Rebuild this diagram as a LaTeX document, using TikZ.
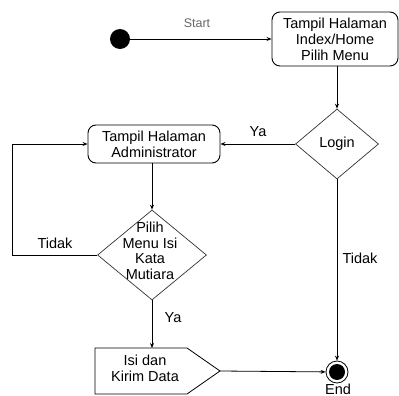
\documentclass[tikz,border=0pt]{standalone}
\usepackage{fontspec}
\setmainfont{Liberation Sans}
\usetikzlibrary{shapes.geometric,arrows.meta}
\begin{document}
\begin{tikzpicture}[x=1pt,y=-1pt,
 txt/.style={font=\fontsize{14.5}{16}\selectfont, align=center, inner sep=0pt},
 act/.style={draw, rounded corners=8pt, line width=0.9pt, txt},
 dec/.style={draw=black!80, diamond, inner sep=0pt, line width=0.7pt},
 lab/.style={font=\fontsize{14.5}{16}\selectfont, inner sep=0pt},
 flow/.style={draw, line width=0.8pt, -{Stealth[length=5pt,width=4pt]}}
]
\useasboundingbox (0,0) rectangle (399,396);

\node[circle, fill=black, minimum size=20pt, inner sep=0pt] (start) at (120,39) {};
\node[act, minimum width=126pt, minimum height=54pt] (home) at (335,39) {Tampil Halaman\\Index/Home\\Pilih Menu};
\node[dec, minimum width=83pt, minimum height=70pt, font=\fontsize{14.5}{16}\selectfont] (login) at (337,144) {Login};
\node[act, minimum width=132pt, minimum height=38pt] (admin) at (154,144) {Tampil Halaman\\Administrator};
\node[dec, minimum width=109pt, minimum height=90pt] (menu) at (152,255) {};
\node[txt, font=\fontsize{14.5}{15.5}\selectfont] (menutxt) at (150,251) {Pilih\\Menu Isi\\Kata\\Mutiara};

\draw[line width=0.8pt] (95,348) -- (187,348) -- (220,371) -- (187,394) -- (95,394) -- cycle;
\coordinate (sendtop) at (152,348);
\coordinate (sendtip) at (220,371);
\node[txt] (send) at (145,368) {Isi dan\\Kirim Data};

\node[circle, draw, line width=0.8pt, minimum size=22pt, inner sep=0pt] (end) at (337,372) {};
\node[circle, fill=black, minimum size=16pt, inner sep=0pt] (endin) at (end) {};

\coordinate (loopc) at (12,255);

\draw[flow] (start) -- (home);
\draw[flow] (home.south -| login.north) -- (login.north);
\draw[flow] (login) -- (admin);
\draw[flow] (admin.south -| menu.north) -- (menu.north);
\draw[flow] (menu.west) -- (loopc) |- (admin.west);
\draw[flow] (menu.south) -- (sendtop);
\draw[flow] (sendtip) -- (end);
\draw[flow] (login.south) -- (end.north);

\node[lab, font=\fontsize{12.5}{14}\selectfont, text=black!60] (lstart) at (197,23) {Start};
\node[lab] (lya1) at (258,132) {Ya};
\node[lab] (ltidak1) at (55,243) {Tidak};
\node[lab] (lya2) at (173,318) {Ya};
\node[lab] (ltidak2) at (360,258) {Tidak};
\node[lab] (lend) at (338,389) {End};
\end{tikzpicture}
\end{document}
